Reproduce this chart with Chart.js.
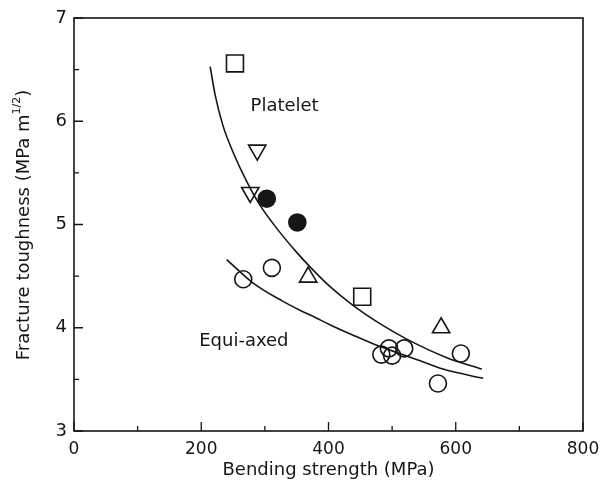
<!DOCTYPE html>
<html>
<head>
<title>Fracture toughness vs bending strength</title>
<script src="https://cdn.jsdelivr.net/npm/chart.js"></script>
<style>
  html, body { margin: 0; padding: 0; background: #fff; }
  #wrap { width: 608px; height: 491px; }
</style>
</head>
<body>
<div id="wrap"><canvas id="chart"></canvas></div>
<script>
    // values (MPa, MPa m^1/2)
    var squares       = [[253, 6.56], [453, 4.30]];
    var downTriangles = [[288, 5.72], [277, 5.31]];
    var filledCircles = [[303, 5.25], [351, 5.02]];
    var upTriangles   = [[368, 4.49], [577, 4.00]];
    var openCircles   = [[266, 4.47], [311, 4.58], [483, 3.74], [495, 3.80],
                         [500, 3.73], [519, 3.80], [608, 3.75], [572, 3.46]];

    var plateletCurveX = [214, 222, 234, 250, 272, 292, 319, 350, 374, 402, 438, 486, 523, 586, 641];
    var plateletCurveY = [6.53, 6.25, 5.96, 5.70, 5.41, 5.19, 4.96, 4.73, 4.57, 4.40, 4.22, 4.02, 3.89, 3.71, 3.60];
    var equiCurveX = [240, 280, 327, 355, 379, 402, 438, 476, 512, 544, 580, 643];
    var equiCurveY = [4.66, 4.44, 4.26, 4.17, 4.10, 4.03, 3.93, 3.83, 3.75, 3.68, 3.60, 3.51];

    var xTicks = [0, 200, 400, 600, 800];
    var yTicks = [3, 4, 5, 6, 7];
    var labels = [
        { text: 'Platelet', x: 331, y: 6.14 },
        { text: 'Equi-axed', x: 267, y: 3.87 }
    ];

    var FONT = '"DejaVu Sans", Arial, sans-serif';
    var INK = '#161616';

    function pts(arr) { return arr.map(function (p) { return { x: p[0], y: p[1] }; }); }
    function curve(xs, ys) { return xs.map(function (x, i) { return { x: x, y: ys[i] }; }); }

    function markerSet(data, style, radius, filled, rotation) {
        return {
            data: pts(data),
            pointStyle: style,
            pointRadius: radius,
            pointRotation: rotation || 0,
            pointBorderColor: INK,
            pointBackgroundColor: filled ? INK : 'rgba(0,0,0,0)',
            pointBorderWidth: 1.6,
            showLine: false
        };
    }
    function lineSet(data) {
        return {
            data: data,
            showLine: true,
            borderColor: INK,
            borderWidth: 1.6,
            pointRadius: 0,
            cubicInterpolationMode: 'monotone',
            fill: false
        };
    }

    // frame, inward ticks, in-plot labels and y title
    var decor = {
        id: 'decor',
        afterDraw: function (chart) {
            var ctx = chart.ctx, a = chart.chartArea;
            var xs = chart.scales.x, ys = chart.scales.y;
            ctx.save();
            ctx.strokeStyle = INK;
            ctx.lineWidth = 1.6;
            ctx.strokeRect(a.left, a.top, a.right - a.left, a.bottom - a.top);
            ctx.lineWidth = 1.3;
            ctx.beginPath();
            for (var v = 0; v <= 800; v += 100) {
                var px = xs.getPixelForValue(v);
                var len = (v % 200 === 0) ? 9 : 5;
                ctx.moveTo(px, a.bottom); ctx.lineTo(px, a.bottom - len);
            }
            for (var w = 3; w <= 7.001; w += 0.5) {
                var py = ys.getPixelForValue(w);
                var l2 = (Math.abs(w - Math.round(w)) < 0.01) ? 9 : 5;
                ctx.moveTo(a.left, py); ctx.lineTo(a.left + l2, py);
            }
            ctx.stroke();

            ctx.fillStyle = INK;
            ctx.font = '18px ' + FONT;
            ctx.textAlign = 'center';
            ctx.textBaseline = 'middle';
            labels.forEach(function (lb) {
                ctx.fillText(lb.text, xs.getPixelForValue(lb.x), ys.getPixelForValue(lb.y));
            });

            // y axis title with superscript
            ctx.translate(24, 225);
            ctx.rotate(-Math.PI / 2);
            var main = 'Fracture toughness (MPa m';
            var sup = '1/2';
            var close = ')';
            ctx.font = '18px ' + FONT;
            var w1 = ctx.measureText(main).width;
            var w3 = ctx.measureText(close).width;
            ctx.font = '11px ' + FONT;
            var w2 = ctx.measureText(sup).width;
            var start = -(w1 + w2 + w3) / 2;
            ctx.textAlign = 'left';
            ctx.font = '18px ' + FONT;
            ctx.fillText(main, start, 0);
            ctx.font = '11px ' + FONT;
            ctx.fillText(sup, start + w1, -7);
            ctx.font = '18px ' + FONT;
            ctx.fillText(close, start + w1 + w2, 0);
            ctx.restore();
        }
    };

    var ctx = document.getElementById('chart').getContext('2d');
    var chart = new Chart(ctx, {
        type: 'scatter',
        data: {
            datasets: [
                lineSet(curve(plateletCurveX, plateletCurveY)),
                lineSet(curve(equiCurveX, equiCurveY)),
                markerSet(squares, 'rect', 12, false),
                markerSet(downTriangles, 'triangle', 10, false, 180),
                markerSet(filledCircles, 'circle', 8.5, true),
                markerSet(upTriangles, 'triangle', 10, false),
                markerSet(openCircles, 'circle', 8.5, false)
            ]
        },
        options: {
            responsive: true,
            maintainAspectRatio: false,
            animation: false,
            layout: { padding: { left: 0, top: 18, right: 25, bottom: 0 } },
            plugins: {
                legend: { display: false },
                tooltip: { enabled: false }
            },
            scales: {
                x: {
                    type: 'linear',
                    min: 0, max: 800,
                    afterBuildTicks: function (s) { s.ticks = xTicks.map(function (v) { return { value: v }; }); },
                    afterFit: function (s) { s.height = 60; },
                    grid: { display: false, drawTicks: false },
                    border: { display: false },
                    ticks: { padding: 8, color: INK, font: { family: FONT, size: 17 } },
                    title: {
                        display: true,
                        text: 'Bending strength (MPa)',
                        color: INK,
                        font: { family: FONT, size: 18 },
                        padding: { top: 0, bottom: 10 }
                    }
                },
                y: {
                    type: 'linear',
                    min: 3, max: 7,
                    afterBuildTicks: function (s) { s.ticks = yTicks.map(function (v) { return { value: v }; }); },
                    afterFit: function (s) { s.width = 74; },
                    grid: { display: false, drawTicks: false },
                    border: { display: false },
                    ticks: { padding: 7, color: INK, font: { family: FONT, size: 18 } }
                }
            }
        },
        plugins: [decor]
    });
</script>
</body>
</html>
